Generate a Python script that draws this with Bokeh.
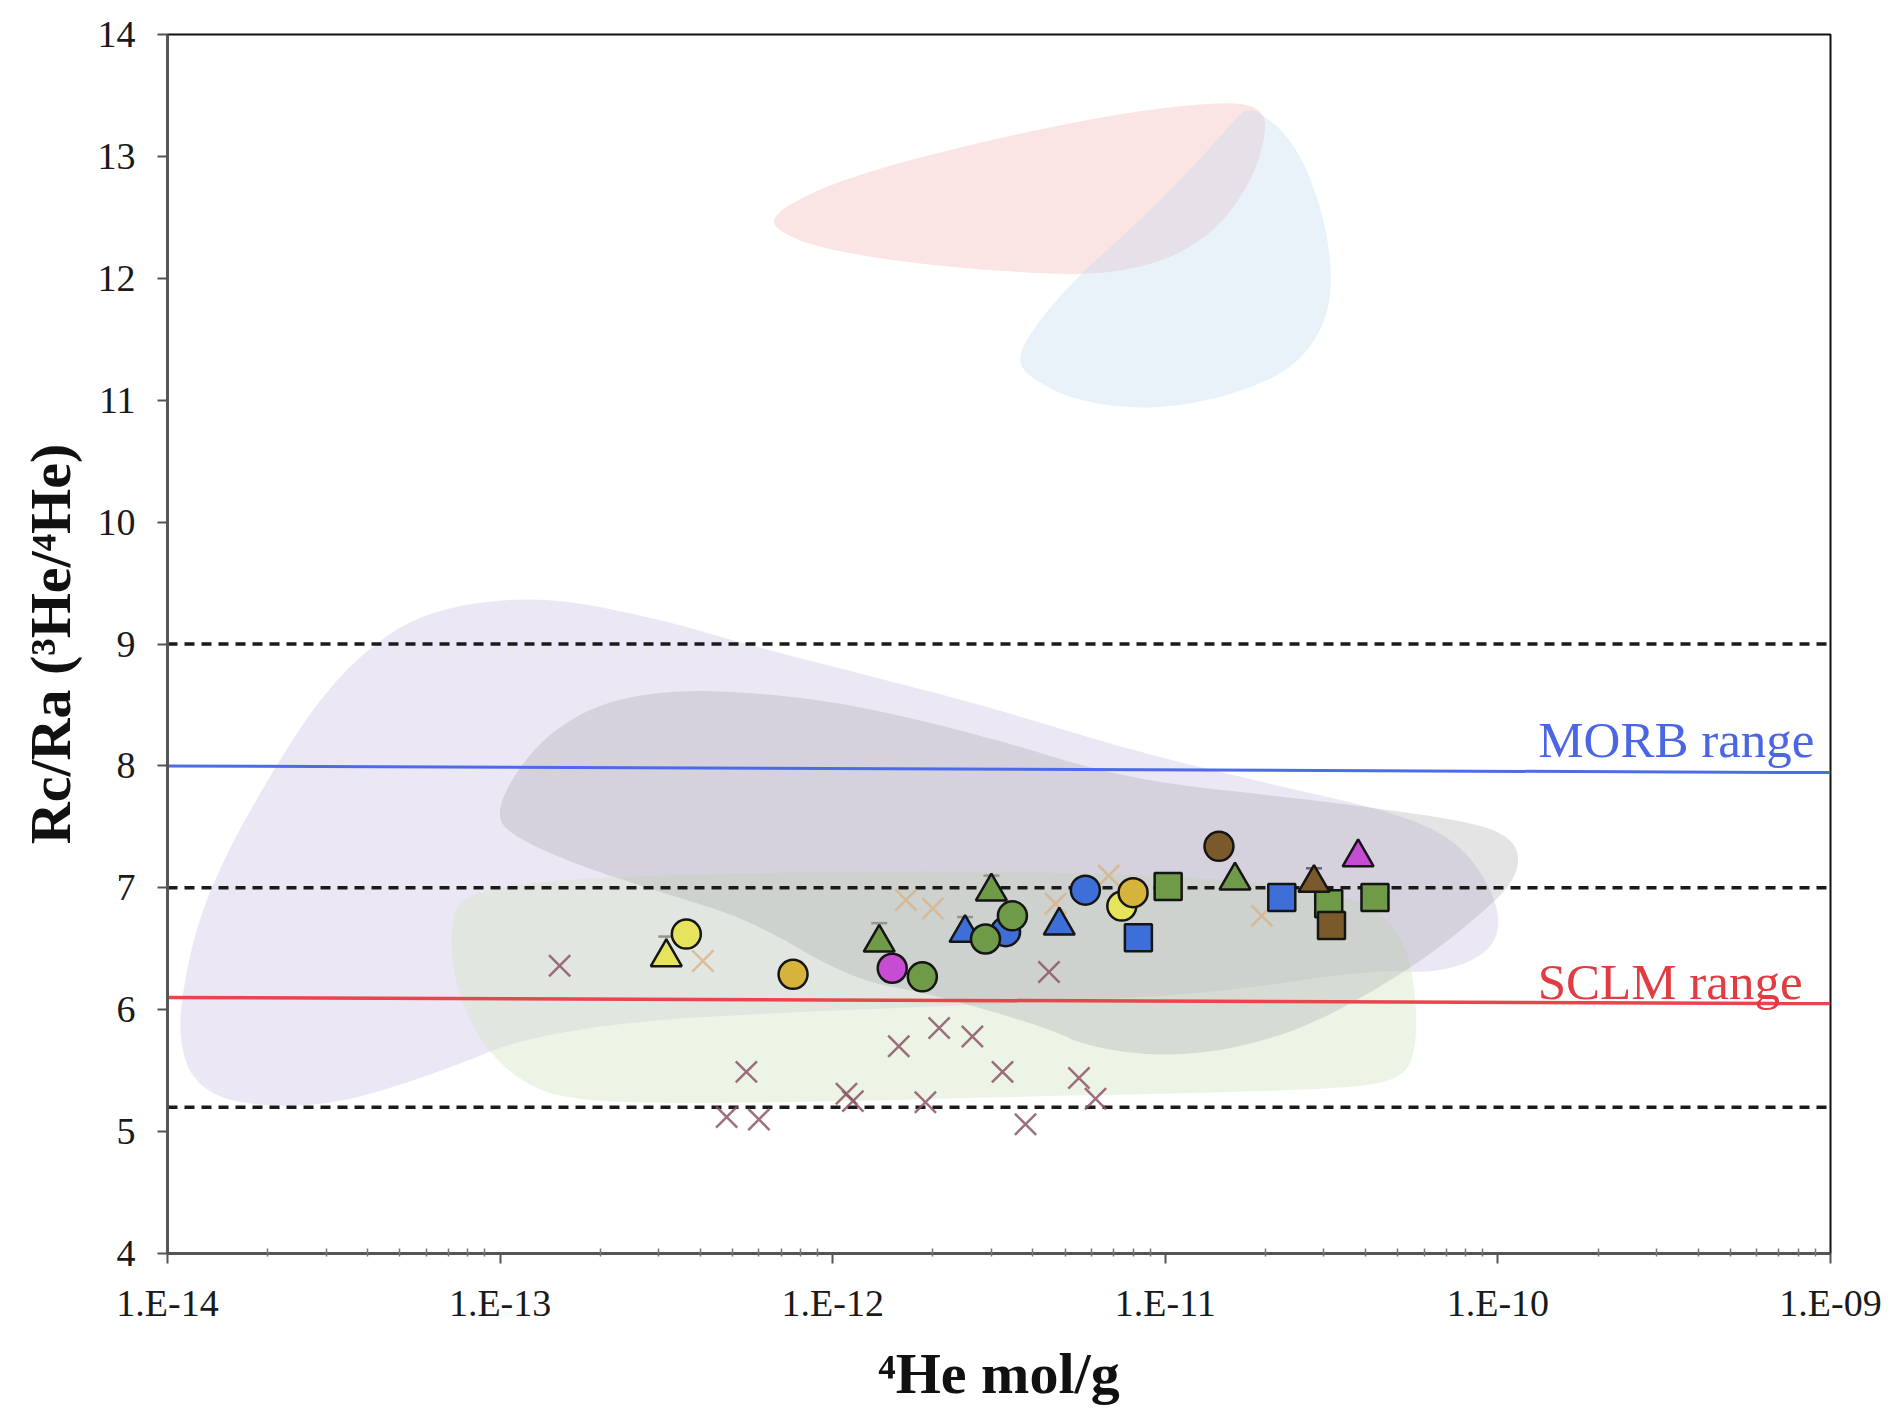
from bokeh.plotting import figure
from bokeh.models import (Range1d, FixedTicker, CustomJSTickFormatter, Label,
                          ColumnDataSource, Whisker, TeeHead)
from bokeh.embed import file_html
from bokeh.resources import INLINE

# ---------------- data ----------------
# circles: 4He (mol/g), Rc/Ra, group
circ_he = [3.63e-13, 7.6e-13, 1.51e-12, 3.31e-12, 1.86e-12, 2.88e-12, 3.47e-12,
           5.75e-12, 7.4e-12, 8.0e-12, 1.45e-11]
circ_rc = [6.62, 6.29, 6.34, 6.64, 6.27, 6.58, 6.77, 6.98, 6.85, 6.96, 7.34]
circ_grp = ["I", "II", "V", "IV", "III", "III", "III", "IV", "I", "II", "VI"]

# triangles (with upper error where measured)
tri_he = [3.16e-13, 1.38e-12, 2.5e-12, 3.0e-12, 4.8e-12, 1.62e-11, 2.8e-11, 3.8e-11]
tri_rc = [6.43, 6.55, 6.63, 6.97, 6.69, 7.06, 7.04, 7.25]
tri_err = [0.17, 0.16, 0.13, 0.13, 0.0, 0.0, 0.12, 0.0]
tri_grp = ["I", "III", "IV", "III", "IV", "III", "VI", "V"]

# squares
sq_he = [8.3e-12, 1.02e-11, 2.24e-11, 3.1e-11, 3.16e-11, 4.27e-11]
sq_rc = [6.59, 7.01, 6.92, 6.87, 6.69, 6.92]
sq_grp = ["IV", "III", "IV", "III", "VI", "III"]

# crosses, two literature sets
xa_he = [1.51e-13, 4.8e-13, 6.0e-13, 5.5e-13, 1.10e-12, 1.15e-12, 1.58e-12, 2.09e-12,
         2.63e-12, 1.9e-12, 3.24e-12, 3.8e-12, 4.47e-12, 5.5e-12, 6.17e-12]
xa_rc = [6.36, 5.12, 5.10, 5.49, 5.31, 5.25, 5.70, 5.85, 5.78, 5.24, 5.49, 5.06, 6.31, 5.44, 5.27]
xb_he = [4.07e-13, 1.66e-12, 2.0e-12, 4.68e-12, 6.76e-12, 1.95e-11]
xb_rc = [6.40, 6.90, 6.83, 6.87, 7.10, 6.77]

# reference ranges
morb_he = [1e-14, 1e-9]
morb_rc = [8.00, 7.945]
sclm_he = [1e-14, 1e-9]
sclm_rc = [6.10, 6.05]
dashed_rc = [9.0, 7.0, 5.2]

# field outlines: log10(4He) and Rc/Ra
pink_log = [-12.199, -12.039, -11.803, -11.444, -11.088, -10.790, -10.707, -10.696,
            -10.732, -10.816, -10.910, -11.030, -11.208, -11.444, -11.741, -11.981, -12.134]
pink_rc = [12.494, 12.741, 12.949, 13.187, 13.376, 13.455, 13.376, 13.207,
           12.850, 12.494, 12.276, 12.117, 12.028, 12.048, 12.117, 12.216, 12.335]

blue_log = [-10.743, -10.612, -10.529, -10.496, -10.518, -10.612, -10.790, -11.030,
            -11.266, -11.422, -11.444, -11.375, -11.266, -11.088, -10.910, -10.797]
blue_rc = [13.425, 13.128, 12.583, 12.028, 11.621, 11.265, 11.047, 10.918,
           10.987, 11.205, 11.374, 11.671, 12.008, 12.444, 12.930, 13.286]

lav_log = [-12.890, -12.540, -12.250, -11.916, -11.524, -11.110, -10.707, -10.307,
           -10.126, -10.028, -9.988, -10.035, -10.180, -10.373, -10.870, -11.306,
           -11.741, -12.177, -12.613, -12.940, -13.121, -13.303, -13.484, -13.660,
           -13.840, -13.935, -13.965, -13.955, -13.910, -13.820, -13.700, -13.570,
           -13.420, -13.220]
lav_rc = [9.400, 9.220, 8.990, 8.757, 8.480, 8.133, 7.865, 7.618,
          7.390, 7.043, 6.696, 6.448, 6.299, 6.329, 6.131, 6.071,
          6.022, 5.972, 5.903, 5.754, 5.556, 5.378, 5.240, 5.200,
          5.260, 5.460, 5.794, 6.150, 6.720, 7.300, 7.880, 8.450,
          8.920, 9.280]

grey_log = [-13.012, -12.958, -12.849, -12.686, -12.468, -12.177, -11.916, -11.524,
            -11.110, -10.576, -10.216, -10.039, -9.955, -9.933, -9.962, -10.035,
            -10.180, -10.362, -10.580, -10.797, -11.015, -11.233, -11.357, -11.691,
            -11.945, -12.246, -12.515, -12.784, -12.972]
grey_rc = [7.608, 7.935, 8.282, 8.529, 8.628, 8.589, 8.490, 8.232,
           7.885, 7.727, 7.598, 7.509, 7.390, 7.221, 7.023, 6.825,
           6.498, 6.171, 5.853, 5.675, 5.616, 5.695, 5.853, 6.121,
           6.250, 6.735, 6.963, 7.201, 7.439]

green_log = [-13.121, -12.867, -12.322, -11.596, -10.870, -10.434, -10.289, -10.246,
             -10.246, -10.289, -10.434, -10.870, -11.415, -11.959, -12.468, -12.794,
             -12.940, -13.067, -13.139, -13.150]
green_rc = [6.944, 7.063, 7.122, 7.142, 7.093, 6.944, 6.646, 6.151,
            5.655, 5.437, 5.358, 5.318, 5.288, 5.249, 5.229, 5.259,
            5.407, 5.754, 6.250, 6.646]

decades = [1e-14, 1e-13, 1e-12, 1e-11, 1e-10, 1e-9]
y_ticks = [4, 5, 6, 7, 8, 9, 10, 11, 12, 13, 14]

# ---------------- styling ----------------
FONT = "Liberation Serif"
group_colors = {"I": "#e6e45c", "II": "#d6b33a", "III": "#6f9a47",
                "IV": "#3e6fd8", "V": "#c74cd4", "VI": "#7a5a2a"}


def rounded(logs, vals, passes=3):
    """Chaikin corner cutting so the field outlines have soft edges."""
    pts = list(zip(logs, vals))
    for _ in range(passes):
        out = []
        n = len(pts)
        for i in range(n):
            a, b = pts[i], pts[(i + 1) % n]
            out.append((0.75 * a[0] + 0.25 * b[0], 0.75 * a[1] + 0.25 * b[1]))
            out.append((0.25 * a[0] + 0.75 * b[0], 0.25 * a[1] + 0.75 * b[1]))
        pts = out
    return [10 ** p[0] for p in pts], [p[1] for p in pts]


p = figure(width=1894, height=1408, x_axis_type="log",
           x_range=Range1d(1e-14, 1e-9), y_range=Range1d(4, 14),
           output_backend="svg", toolbar_location=None,
           min_border_left=167, min_border_right=64,
           min_border_top=34, min_border_bottom=155)
p.background_fill_color = "white"
p.border_fill_color = "white"
p.grid.visible = False
p.outline_line_color = "#111111"
p.outline_line_width = 2

# fields
for logs, vals, col, alpha in [
        (pink_log, pink_rc, "#f4c4c4", 0.45),
        (blue_log, blue_rc, "#c8dcf0", 0.40),
        (lav_log, lav_rc, "#c9bde0", 0.36),
        (green_log, green_rc, "#d5e6c8", 0.45),
        (grey_log, grey_rc, "#9a9aa0", 0.27)]:
    fx, fy = rounded(logs, vals)
    p.patch(fx, fy, fill_color=col, fill_alpha=alpha, line_color=None)

# reference lines
for yv in dashed_rc:
    p.line([1e-14, 1e-9], [yv, yv], line_color="#1a1a1a", line_width=3.5,
           line_dash="10 7")
p.line(morb_he, morb_rc, line_color="#4d6be8", line_width=3)
p.line(sclm_he, sclm_rc, line_color="#e8454d", line_width=3.5)

# crosses
p.scatter(xb_he, xb_rc, marker="x", size=30, line_color="#d7b58c",
          line_width=2.5, line_alpha=0.85)
p.scatter(xa_he, xa_rc, marker="x", size=30, line_color="#8d5668",
          line_width=2.5, line_alpha=0.85)

# error bars on triangles
eb = [(h, r, r + e) for h, r, e in zip(tri_he, tri_rc, tri_err) if e > 0]
err_src = ColumnDataSource(dict(he=[v[0] for v in eb], lo=[v[1] for v in eb],
                                hi=[v[2] for v in eb]))
p.add_layout(Whisker(source=err_src, base="he", lower="lo", upper="hi",
                     dimension="height", lower_head=None,
                     upper_head=TeeHead(size=16, line_width=2.5, line_color="#1a1a1a"),
                     line_color="#1a1a1a", line_width=2.5))

outline = dict(line_color="#151515", line_width=2.5)
p.scatter(sq_he, sq_rc, marker="square", size=27,
          fill_color=[group_colors[g] for g in sq_grp], **outline)
p.scatter(tri_he, tri_rc, marker="triangle", size=31,
          fill_color=[group_colors[g] for g in tri_grp], **outline)
p.scatter(circ_he, circ_rc, marker="circle", size=29,
          fill_color=[group_colors[g] for g in circ_grp], **outline)

# range labels
p.add_layout(Label(x=8.95e-10, y=8.21, text="MORB range", text_align="right",
                   text_baseline="alphabetic", text_font=FONT,
                   text_font_size="51px", text_color="#4a66e4"))
p.add_layout(Label(x=8.24e-10, y=6.23, text="SCLM range", text_align="right",
                   text_baseline="alphabetic", text_font=FONT,
                   text_font_size="51px", text_color="#e03c42"))

# axes
xa = p.xaxis[0]
xa.ticker = FixedTicker(ticks=decades,
                        minor_ticks=[m * d for d in decades[:-1] for m in range(2, 10)])
xa.formatter = CustomJSTickFormatter(code="""
    const e = Math.round(Math.log10(tick));
    const a = Math.abs(e);
    return "1.E" + (e < 0 ? "-" : "+") + (a < 10 ? "0" : "") + a;
""")
ya = p.yaxis[0]
ya.ticker = FixedTicker(ticks=y_ticks)

for ax in (xa, ya):
    ax.axis_line_color = "#555555"
    ax.axis_line_width = 3
    ax.major_tick_line_color = "#555555"
    ax.major_tick_line_width = 2
    ax.major_tick_in = 0
    ax.major_tick_out = 10
    ax.major_label_text_font = FONT
    ax.major_label_text_font_size = "38px"
    ax.major_label_text_color = "#1a1a1a"
    ax.axis_label_text_font = FONT
    ax.axis_label_text_font_size = "58px"
    ax.axis_label_text_font_style = "bold"
    ax.axis_label_text_color = "#111111"

xa.minor_tick_line_color = "#777777"
xa.minor_tick_line_width = 1.5
xa.minor_tick_in = 5
xa.minor_tick_out = 3
ya.minor_tick_line_color = None

xa.major_label_standoff = 18
ya.major_label_standoff = 22
xa.axis_label = "\u2074He mol/g"
ya.axis_label = "Rc/Ra (\u00b3He/\u2074He)"
xa.axis_label_standoff = 14
ya.axis_label_standoff = 12

open("out.html", "w").write(file_html(p, INLINE))
